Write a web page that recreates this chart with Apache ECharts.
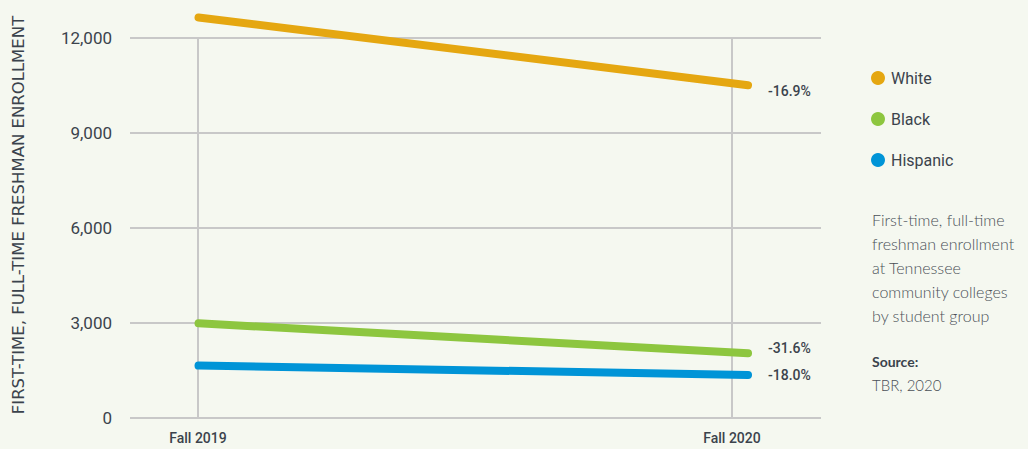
<!DOCTYPE html>
<html>
<head>
<meta charset="utf-8">
<script src="https://cdn.jsdelivr.net/npm/echarts@6/dist/echarts.min.js"></script>
<style>
  html, body { margin: 0; padding: 0; background: #f5f8f0; }
  #chart { width: 1028px; height: 449px; }
</style>
</head>
<body>
<div id="chart"></div>
<script>
// data
const years = [2019, 2020];
const xLabels = ["Fall 2019", "Fall 2020"];
const groups = ["White", "Black", "Hispanic"];
const white = [12650, 10510];
const black = [2990, 2045];
const hispanic = [1655, 1360];
const changeLabels = ["-16.9%", "-31.6%", "-18.0%"];
const yTicks = [0, 3000, 6000, 9000, 12000];

const colors = ["#e5a711", "#8dc63f", "#0094d7"];
const narrow = "'Liberation Sans Narrow', Roboto, sans-serif";
const textDark = "#3b434c";

const chart = echarts.init(document.getElementById("chart"), null, { renderer: "svg" });

function makeSeries(name, values, i, labelOffsetY) {
  return {
    name: name,
    type: "line",
    xAxisIndex: 0,
    clip: false,
    symbol: "none",
    data: values.map((v, k) => [years[k], v]),
    lineStyle: { width: 8, color: colors[i], cap: "round" },
    itemStyle: { color: colors[i] },
    endLabel: {
      show: true,
      formatter: () => changeLabels[i],
      distance: 20,
      offset: [0, labelOffsetY],
      color: textDark,
      fontFamily: narrow,
      fontSize: 14,
      fontWeight: 500
    },
    emphasis: { disabled: true }
  };
}

const options = {
  backgroundColor: "#f5f8f0",
  animation: false,
  color: colors,
  grid: { left: 130, right: 207, top: 38, bottom: 31, outerBoundsMode: "none" },
  legend: {
    data: groups,
    orient: "vertical",
    left: 866,
    top: 65,
    icon: "circle",
    itemWidth: 14,
    itemHeight: 14,
    itemGap: 25,
    textStyle: { color: textDark, fontFamily: narrow, fontSize: 16, padding: [0, 0, 0, 1] }
  },
  xAxis: [
    {
      // axis used by the lines
      type: "value",
      min: 2018.8753,
      max: 2020.1328,
      show: false
    },
    {
      // axis carrying the labels and vertical gridlines
      type: "value",
      position: "bottom",
      min: -0.1273,
      max: 1.1667,
      axisLine: { show: false },
      axisTick: { show: false, customValues: [0, 1] },
      axisLabel: {
        customValues: [0, 1],
        formatter: v => xLabels[Math.round(v)],
        color: textDark,
        fontFamily: narrow,
        fontSize: 14,
        fontWeight: 500,
        margin: 13
      },
      splitLine: { show: true, lineStyle: { color: "#c8c8c8", width: 2 } }
    }
  ],
  yAxis: {
    type: "value",
    min: yTicks[0],
    max: yTicks[yTicks.length - 1],
    interval: 3000,
    name: "FIRST-TIME, FULL-TIME FRESHMAN ENROLLMENT",
    nameLocation: "middle",
    nameGap: 103,
    nameTextStyle: {
      color: textDark,
      fontFamily: "'DejaVu Sans', sans-serif",
      fontSize: 16.5,
      padding: [0, 0, 0, 26]
    },
    axisLine: { show: false },
    axisTick: { show: false },
    axisLabel: {
      color: textDark,
      fontFamily: narrow,
      fontSize: 17,
      margin: 18,
      formatter: v => v.toLocaleString("en-US")
    },
    splitLine: { lineStyle: { color: "#c8c8c8", width: 2 } }
  },
  graphic: [
    {
      type: "text",
      left: 872,
      top: 207,
      style: {
        text: "First-time, full-time\nfreshman enrollment\nat Tennessee\ncommunity colleges\nby student group",
        fill: "#4a5057",
        font: "300 16px Lato, 'Open Sans', sans-serif",
        lineHeight: 24
      }
    },
    {
      type: "text",
      left: 872,
      top: 354,
      style: { text: "Source:", fill: textDark, font: "bold 14px Lato, 'Open Sans', sans-serif" }
    },
    {
      type: "text",
      left: 872,
      top: 377,
      style: { text: "TBR, 2020", fill: "#4a5057", font: "300 15px Lato, 'Open Sans', sans-serif" }
    }
  ],
  series: [
    makeSeries(groups[0], white, 0, 6),
    makeSeries(groups[1], black, 1, -5),
    makeSeries(groups[2], hispanic, 2, 0)
  ]
};

chart.setOption(options);
</script>
</body>
</html>
